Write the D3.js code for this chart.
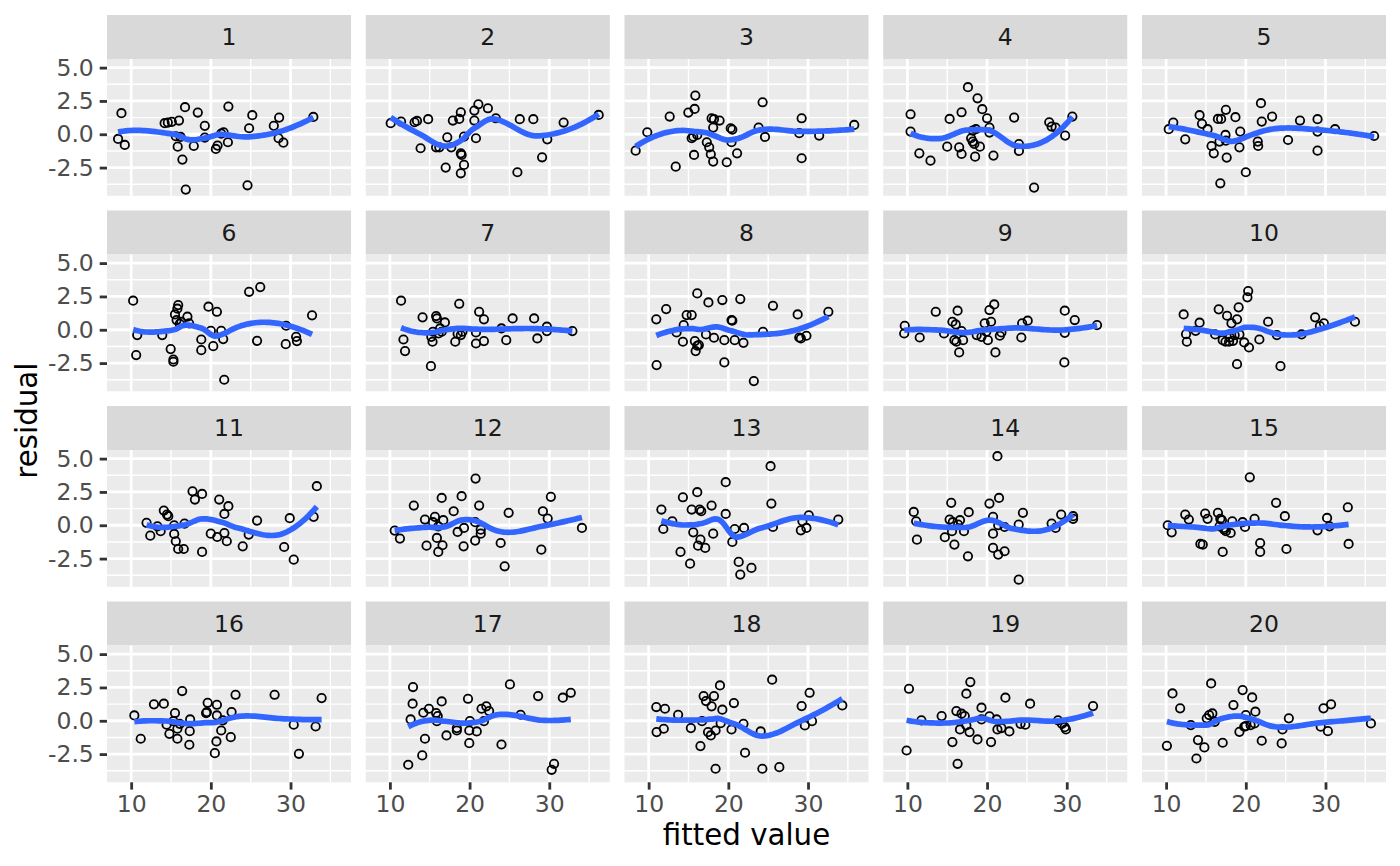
<!DOCTYPE html>
<html>
<head>
<meta charset="utf-8">
<script src="https://cdn.jsdelivr.net/npm/d3@7"></script>
<style>
  html, body { margin: 0; padding: 0; background: #fff; }
  svg { display: block; font-family: "DejaVu Sans", sans-serif; }
</style>
</head>
<body>
<div id="chart"></div>
<script>
// Residuals vs fitted values, one array of [fitted, residual] pairs per panel.
var p1 = [[8.78,1.58],[8.36,-0.35],[9.2,-0.8],[14.2,0.83],[14.6,0.88],[15.1,0.93],[16.0,1.03],[15.6,-0.15],[16.2,-0.2],[15.84,-0.93],[16.43,-1.9],[16.76,2.03],[16.85,-4.15],[17.86,-0.88],[18.36,1.63],[19.24,0.63],[19.24,-0.25],[20.63,-1.1],[20.84,-0.85],[21.3,0.05],[21.6,0.15],[22.14,-0.6],[22.2,2.08],[24.8,0.45],[25.2,1.43],[24.6,-3.83],[27.9,0.63],[28.57,1.25],[28.5,-0.3],[29.1,-0.63],[32.86,1.3]];
var p2 = [[10.1,0.83],[11.4,0.95],[13.1,0.9],[13.4,1.0],[14.8,1.13],[13.85,-1.05],[15.8,-0.98],[16.2,-0.98],[17.2,-0.23],[17.7,-0.98],[17.0,-2.5],[17.9,1.03],[18.7,1.15],[18.9,1.65],[18.9,-1.43],[19.0,-1.55],[19.3,-2.3],[18.9,-2.93],[19.3,-0.18],[20.6,1.78],[21.1,2.25],[20.6,1.03],[20.8,-0.3],[22.3,1.95],[23.3,1.2],[26.3,1.13],[26.0,-2.85],[28.0,1.13],[29.75,-0.38],[29.1,-1.73],[31.8,0.88],[36.2,1.45]];
var p3 = [[8.37,-1.23],[9.83,0.15],[12.64,1.33],[13.4,-2.43],[14.98,1.63],[15.77,1.9],[15.86,2.9],[15.6,-0.18],[15.4,-0.3],[16.1,-0.05],[15.7,-1.55],[17.9,1.2],[18.9,1.03],[18.1,0.5],[17.3,-0.6],[17.6,-0.98],[17.8,-1.5],[18.1,-2.05],[19.8,-2.1],[20.3,0.45],[20.5,0.35],[20.4,-0.6],[21.1,-1.43],[23.8,0.5],[24.3,2.4],[24.6,-0.2],[28.9,0.08],[29.2,1.2],[29.2,-1.8],[31.4,-0.1],[35.8,0.7],[18.2,1.13]];
var p4 = [[10.4,1.5],[10.4,0.2],[11.5,-1.43],[12.9,-1.98],[15.3,1.15],[15.0,-0.93],[16.8,1.65],[16.5,-0.98],[16.8,-1.48],[17.6,3.53],[18.8,2.7],[19.4,1.88],[20.0,1.2],[18.2,0.28],[18.6,0.38],[18.2,-0.55],[18.4,-0.73],[19.1,-0.93],[18.5,-1.68],[20.3,0.5],[20.3,0.13],[20.8,-1.6],[23.4,1.25],[24.0,-0.73],[24.0,-1.25],[25.9,-4.0],[27.8,0.9],[28.1,0.58],[28.6,0.5],[29.8,-0.1],[30.7,1.33],[18.0,-0.3]];
var p5 = [[10.33,0.38],[10.9,0.88],[12.4,-0.38],[14.2,1.43],[14.5,0.78],[15.2,0.38],[15.7,-0.88],[15.98,-1.43],[16.5,1.15],[16.9,1.15],[17.5,1.83],[17.45,-0.05],[17.5,-0.48],[17.6,-1.75],[16.8,-3.68],[18.7,1.28],[19.3,0.2],[19.2,-0.98],[20.0,-2.85],[21.5,-0.55],[21.55,-0.88],[21.9,2.33],[22.0,0.95],[23.3,1.33],[25.3,-0.43],[26.8,1.03],[29.0,1.13],[29.0,0.2],[29.0,-1.23],[31.2,0.38],[36.1,-0.13],[16.7,-0.55]];
var p6 = [[10.25,2.18],[10.76,-0.4],[10.63,-1.9],[13.9,-0.4],[14.96,-1.45],[15.3,-2.23],[15.3,-2.4],[15.9,1.85],[15.8,1.58],[15.5,1.15],[15.7,0.73],[16.1,0.45],[17.06,0.98],[17.27,0.48],[19.7,1.73],[20.76,1.35],[20.0,-0.08],[18.8,-0.73],[18.8,-1.53],[20.3,-1.23],[21.3,-0.08],[21.55,-0.7],[21.68,-3.75],[24.8,2.85],[26.2,3.2],[25.8,-0.83],[29.45,0.3],[29.4,-1.08],[30.7,-0.53],[30.8,-0.85],[32.7,1.08],[16.3,0.6]];
var p7 = [[11.4,2.18],[11.7,-0.73],[11.9,-1.6],[14.1,0.93],[15.15,-2.73],[15.8,1.03],[15.9,0.85],[16.9,0.55],[15.2,-0.53],[15.35,-0.9],[16.1,-0.28],[16.5,-0.15],[18.7,1.95],[18.2,-0.9],[18.9,-0.4],[19.1,-0.15],[21.2,1.35],[21.8,0.78],[20.8,-0.2],[20.8,-1.03],[21.8,-0.85],[24.0,0.1],[25.4,0.85],[24.6,-0.78],[28.1,0.85],[28.5,-0.65],[29.7,0.23],[29.7,-0.1],[32.9,-0.1],[15.4,-0.15],[16.3,0.1],[18.5,-0.3]];
var p8 = [[10.96,0.78],[12.2,1.55],[11.0,-2.65],[13.5,-0.2],[14.3,-0.9],[14.4,0.35],[14.77,1.1],[15.4,1.1],[16.1,2.73],[15.8,-0.85],[16.1,-1.2],[16.3,-1.15],[15.9,-1.6],[17.2,-0.35],[17.5,2.05],[18.2,-0.6],[19.25,2.23],[19.5,-0.78],[19.5,-2.45],[20.4,0.73],[20.5,0.68],[20.8,-0.78],[21.5,2.3],[21.9,-0.98],[23.2,-3.85],[24.35,-0.15],[25.6,1.8],[28.7,1.15],[28.9,-0.58],[29.1,-0.65],[29.8,-0.45],[32.55,1.35]];
var p9 = [[9.67,0.3],[9.6,-0.28],[11.55,-0.58],[13.56,1.35],[14.6,-0.28],[16.3,1.43],[15.65,0.6],[16.07,0.4],[16.8,-0.1],[15.9,-0.78],[16.15,-0.9],[16.99,-0.78],[16.5,-1.7],[19.7,0.48],[20.5,0.6],[20.3,1.48],[20.9,1.9],[19.3,-0.53],[20.1,-0.78],[21.05,-1.7],[21.6,-0.45],[21.8,-0.2],[18.7,-0.4],[24.4,0.48],[25.1,0.68],[24.3,-0.58],[29.75,1.43],[31.0,0.73],[29.75,-0.23],[29.7,-2.45],[33.8,0.35],[19.9,-0.15]];
var p10 = [[12.2,1.15],[12.5,-0.33],[12.6,-0.9],[13.7,-0.08],[14.2,0.53],[16.15,-0.35],[16.6,1.53],[17.65,1.05],[18.2,0.48],[18.9,0.78],[19.1,1.68],[20.2,2.43],[20.3,2.9],[17.45,-0.9],[17.9,-0.9],[18.4,-0.83],[18.6,-0.4],[19.2,-0.35],[19.8,-0.95],[20.4,-1.33],[18.9,-2.58],[21.7,-0.73],[22.8,0.6],[23.9,-0.4],[24.35,-2.73],[27.0,-0.35],[28.7,0.93],[29.3,0.28],[29.8,0.48],[33.7,0.6],[17.1,-0.78],[18.0,-0.58]];
var p11 = [[11.93,0.18],[12.4,-0.78],[13.3,-0.08],[13.7,-0.45],[14.1,1.1],[14.5,0.8],[14.66,0.68],[15.4,0.0],[15.4,-0.65],[15.6,-1.2],[15.9,-1.78],[16.6,-1.78],[16.7,0.13],[17.7,2.55],[18.0,1.93],[18.9,2.35],[18.9,-2.0],[19.99,-0.63],[20.8,-0.88],[21.05,1.93],[21.7,-0.58],[22.0,-1.2],[22.2,1.43],[21.7,0.85],[24.0,-1.58],[24.75,-0.7],[25.8,0.35],[29.2,-1.63],[29.9,0.53],[30.4,-2.58],[32.9,0.63],[33.3,2.93]];
var p12 = [[10.6,-0.4],[11.26,-1.0],[13.0,1.48],[14.4,0.43],[14.6,-1.53],[15.65,0.63],[15.4,0.23],[16.07,-0.08],[16.7,0.38],[15.9,-0.95],[16.6,-1.5],[16.07,-2.0],[16.5,2.05],[18.0,1.05],[19.0,2.18],[19.3,-0.2],[18.5,-0.5],[19.25,-1.58],[20.75,3.5],[21.2,1.48],[20.7,0.23],[21.4,-0.33],[21.4,-0.63],[20.7,-1.15],[24.4,-3.08],[23.9,-1.33],[24.9,0.93],[29.2,1.05],[29.8,0.5],[30.2,2.13],[29.0,-1.83],[34.1,-0.2]];
var p13 = [[11.6,1.18],[11.84,-0.28],[12.97,0.3],[14.0,-2.0],[14.3,2.1],[15.2,-2.88],[15.4,1.18],[16.1,2.48],[16.4,1.18],[16.6,1.05],[15.6,-0.53],[16.5,-1.08],[16.2,-1.53],[17.1,-1.7],[17.9,1.48],[18.1,-0.63],[19.67,3.23],[19.67,0.85],[20.8,-0.28],[20.5,-1.25],[21.97,-0.2],[21.3,-2.75],[21.5,-3.7],[22.9,-3.2],[25.3,4.43],[25.4,1.63],[25.6,-0.13],[30.1,0.75],[29.3,0.3],[29.1,-0.38],[29.8,-0.2],[33.8,0.43]];
var p14 = [[10.8,1.0],[11.1,0.3],[11.2,-1.08],[14.7,-0.9],[15.5,1.68],[15.3,0.43],[15.7,0.23],[16.6,0.38],[17.7,0.98],[15.9,-1.45],[17.6,-2.33],[17.1,-0.45],[15.6,-0.45],[20.3,1.63],[21.5,2.05],[21.3,5.18],[20.75,0.63],[21.4,0.0],[22.2,-0.13],[20.75,-0.63],[20.75,-1.7],[21.4,-2.2],[22.2,-1.95],[23.97,0.05],[24.5,0.93],[23.97,-4.08],[28.1,0.13],[28.6,-0.2],[29.3,0.8],[30.8,0.68],[30.8,0.48],[16.36,0.05]];
var p15 = [[10.2,0.0],[10.7,-0.53],[12.4,0.8],[12.85,0.43],[14.3,-1.4],[14.6,-1.45],[14.9,0.88],[15.2,0.48],[16.5,0.93],[16.8,0.48],[17.0,0.38],[17.2,-0.2],[17.5,-0.45],[18.1,-0.58],[18.3,0.3],[17.1,-2.0],[19.6,0.23],[19.9,-0.13],[20.5,3.6],[21.1,0.48],[21.8,-1.33],[21.8,-2.0],[23.8,1.68],[24.9,0.68],[25.1,-1.78],[29.0,-0.38],[30.2,0.55],[30.5,-0.08],[32.8,1.35],[32.9,-1.4],[17.3,-0.33],[16.7,-0.08]];
var p16 = [[10.4,0.4],[11.2,-1.35],[12.86,1.23],[14.1,1.28],[14.45,-0.3],[14.8,-0.98],[15.5,0.58],[15.3,-0.03],[15.8,-0.6],[15.8,-1.35],[16.1,-0.23],[16.4,2.23],[17.4,0.1],[17.35,-0.78],[17.3,-1.8],[19.6,1.35],[19.5,0.65],[19.4,0.58],[20.76,1.2],[20.76,0.4],[21.5,0.03],[21.3,-0.73],[20.7,-1.55],[20.5,-2.43],[22.6,0.65],[23.1,1.95],[22.5,-1.23],[28.0,1.95],[30.4,-0.3],[31.05,-2.48],[33.15,-0.43],[33.9,1.7]];
var p17 = [[12.6,0.1],[12.9,2.53],[12.85,1.28],[12.3,-3.3],[14.06,-2.6],[14.4,-1.35],[14.2,0.6],[14.9,0.9],[15.8,0.58],[16.0,0.35],[15.9,-0.03],[16.5,1.45],[17.1,-1.1],[18.4,-0.55],[18.4,-0.73],[19.8,1.65],[20.04,-0.03],[19.96,-0.73],[19.96,-1.68],[20.9,-0.8],[21.5,0.9],[22.1,1.08],[22.45,0.73],[21.8,-0.03],[24.0,-1.78],[25.06,2.73],[26.4,0.45],[28.6,1.85],[30.6,-3.23],[30.3,-3.68],[31.7,1.73],[32.7,2.1]];
var p18 = [[10.96,1.03],[11.0,-0.85],[12.05,0.9],[11.9,-0.6],[13.7,0.45],[15.3,-0.55],[16.5,-1.9],[16.7,-0.03],[16.9,1.85],[17.2,1.48],[18.2,1.85],[17.9,1.08],[18.95,2.65],[19.25,0.83],[18.4,-0.73],[17.8,-1.1],[19.04,-0.18],[18.4,-3.6],[20.7,1.33],[20.4,-0.65],[21.9,-0.23],[22.1,-2.4],[24.06,-0.8],[24.27,-3.6],[25.5,3.08],[26.4,-3.48],[29.2,1.1],[30.2,2.1],[30.5,-0.03],[29.6,-0.35],[34.3,1.15],[17.45,-0.85]];
var p19 = [[10.2,2.4],[9.9,-2.23],[11.76,0.03],[14.3,0.35],[15.65,-1.6],[16.3,-3.23],[16.15,0.73],[16.8,0.53],[17.2,0.35],[17.4,-0.35],[16.6,-0.65],[17.8,-0.85],[18.8,-1.4],[17.4,2.03],[17.9,2.9],[19.3,0.98],[19.3,0.1],[20.3,0.33],[20.5,-1.6],[21.2,0.1],[21.3,-0.65],[21.8,-0.55],[22.8,-0.8],[22.3,1.73],[24.2,-0.23],[24.8,-0.3],[25.4,1.28],[28.9,0.03],[29.4,-0.23],[29.75,-0.48],[29.9,-0.65],[33.3,1.1]];
var p20 = [[10.1,-1.88],[10.8,2.05],[11.76,0.93],[13.1,-0.33],[14.0,-1.45],[13.8,-2.83],[14.8,-2.0],[15.65,2.8],[15.1,0.18],[15.4,0.43],[15.8,0.55],[16.1,-0.08],[17.1,-1.65],[18.45,1.18],[19.6,2.3],[20.8,1.75],[21.2,0.68],[20.0,0.43],[19.8,-0.45],[19.2,-0.83],[20.6,-0.33],[21.1,-0.2],[22.0,-1.5],[24.6,-0.65],[25.4,0.18],[24.5,-1.7],[29.75,0.93],[30.7,1.23],[29.4,-0.45],[30.3,-0.78],[35.7,-0.2],[20.0,-0.4]];

var panelData = [p1, p2, p3, p4, p5, p6, p7, p8, p9, p10,
                 p11, p12, p13, p14, p15, p16, p17, p18, p19, p20];
var panelLabels = ['1','2','3','4','5','6','7','8','9','10',
                   '11','12','13','14','15','16','17','18','19','20'];

var xTicks = [10, 20, 30];
var xMinor = [5, 15, 25, 35];
var yTicks = [-2.5, 0, 2.5, 5];
var yMinor = [-3.75, -1.25, 1.25, 3.75];

var WIDTH = 1400, HEIGHT = 866;
var LEFT = 107, RIGHT = 1386, TOP = 15;
var NCOL = 5, NROW = 4;
var GAP = 14.7, STRIP_H = 44, PANEL_H = 136.8;
var PANEL_W = (RIGHT - LEFT - GAP * (NCOL - 1)) / NCOL;

/**
 * Local quadratic fit at x0 with tricube weights.
 * @return {number[]} [value, slope]
 */
var localFit = function localFit(pts, span, x0) {
    var n = pts.length;
    var q = Math.floor(n * span);
    var d = pts.map(function(p) { return Math.abs(p[0] - x0); });
    var h = d.slice().sort(function(a, b) { return a - b; })[q - 1] * 1.0000001;
    var A = [[0,0,0],[0,0,0],[0,0,0]], b = [0,0,0];
    for (var i = 0; i < n; i++) {
        var u = d[i] / h;
        if (u >= 1) continue;
        var w = Math.pow(1 - u * u * u, 3);
        var dx = pts[i][0] - x0;
        var basis = [1, dx, dx * dx];
        for (var r = 0; r < 3; r++) {
            b[r] += w * basis[r] * pts[i][1];
            for (var c = 0; c < 3; c++) A[r][c] += w * basis[r] * basis[c];
        }
    }
    // gaussian elimination with pivoting
    for (var k = 0; k < 3; k++) {
        var piv = k;
        for (var r2 = k + 1; r2 < 3; r2++) if (Math.abs(A[r2][k]) > Math.abs(A[piv][k])) piv = r2;
        var tmp = A[k]; A[k] = A[piv]; A[piv] = tmp;
        var tb = b[k]; b[k] = b[piv]; b[piv] = tb;
        for (var r3 = k + 1; r3 < 3; r3++) {
            var f = A[r3][k] / A[k][k];
            for (var c2 = k; c2 < 3; c2++) A[r3][c2] -= f * A[k][c2];
            b[r3] -= f * b[k];
        }
    }
    var beta = [0,0,0];
    for (var k2 = 2; k2 >= 0; k2--) {
        var s = b[k2];
        for (var c3 = k2 + 1; c3 < 3; c3++) s -= A[k2][c3] * beta[c3];
        beta[k2] = s / A[k2][k2];
    }
    return [beta[0], beta[1]];
};

/**
 * loess as R does it by default: fits at kd-tree vertices,
 * cubic Hermite interpolation in between.
 */
var loess = function loess(pts, span, evalX) {
    var xs = pts.map(function(p) { return p[0]; }).sort(function(a, b) { return a - b; });
    var n = xs.length;
    var fc = Math.floor(n * span * 0.2);
    var mu = 0.005 * (xs[n - 1] - xs[0]);
    var verts = [xs[0] - mu, xs[n - 1] + mu];

    var split = function split(l, u) {
        if (u - l + 1 <= fc) return;
        var m = Math.floor((l + u + 2) / 2) - 1;
        var v = (xs[m] + xs[m + 1]) / 2;
        if (v <= verts[0] || v >= verts[1]) return;
        verts.push(v);
        split(l, m);
        split(m + 1, u);
    };
    split(0, n - 1);
    verts = Array.from(new Set(verts)).sort(function(a, b) { return a - b; });

    var fits = verts.map(function(v) { return localFit(pts, span, v); });

    return evalX.map(function(x0) {
        var j = 0;
        while (j < verts.length - 2 && x0 > verts[j + 1]) j++;
        var v0 = verts[j], v1 = verts[j + 1], h = v1 - v0;
        var t = (x0 - v0) / h;
        var h00 = 2*t*t*t - 3*t*t + 1, h10 = t*t*t - 2*t*t + t;
        var h01 = -2*t*t*t + 3*t*t, h11 = t*t*t - t*t;
        var val = h00 * fits[j][0] + h10 * h * fits[j][1] +
                  h01 * fits[j + 1][0] + h11 * h * fits[j + 1][1];
        return [x0, val];
    });
};

// Smoothed curves per panel, 80 points over each panel's own x range
var smooths = panelData.map(function(pts) {
    var ext = d3.extent(pts, function(p) { return p[0]; });
    var xs = d3.range(80).map(function(i) { return ext[0] + (ext[1] - ext[0]) * i / 79; });
    return loess(pts, 0.75, xs);
});

// Shared scales over all panels, 5% expansion as ggplot does
var allX = [], allY = [];
panelData.forEach(function(pts) { pts.forEach(function(p) { allX.push(p[0]); allY.push(p[1]); }); });
smooths.forEach(function(line) { line.forEach(function(p) { allY.push(p[1]); }); });
var xExt = d3.extent(allX), yExt = d3.extent(allY);
var xPad = (xExt[1] - xExt[0]) * 0.05, yPad = (yExt[1] - yExt[0]) * 0.05;

var x = d3.scaleLinear().domain([xExt[0] - xPad, xExt[1] + xPad]).range([0, PANEL_W]);
var y = d3.scaleLinear().domain([yExt[0] - yPad, yExt[1] + yPad]).range([PANEL_H, 0]);

var svg = d3.select('#chart').append('svg')
    .attr('width', WIDTH).attr('height', HEIGHT);
svg.append('rect').attr('width', WIDTH).attr('height', HEIGHT).attr('fill', '#ffffff');

var line = d3.line()
    .x(function(d) { return x(d[0]); })
    .y(function(d) { return y(d[1]); });

panelData.forEach(function(pts, i) {
    var col = i % NCOL, row = Math.floor(i / NCOL);
    var px = LEFT + col * (PANEL_W + GAP);
    var py = TOP + row * (STRIP_H + PANEL_H + GAP);

    var g = svg.append('g').attr('transform', 'translate(' + px + ',' + py + ')');

    // strip
    g.append('rect').attr('width', PANEL_W).attr('height', STRIP_H).attr('fill', '#d9d9d9');
    g.append('text')
        .attr('x', PANEL_W / 2).attr('y', STRIP_H / 2)
        .attr('dy', '0.36em')
        .attr('text-anchor', 'middle')
        .attr('fill', '#1a1a1a')
        .style('font-size', '23.5px')
        .text(panelLabels[i]);

    var pg = g.append('g').attr('transform', 'translate(0,' + STRIP_H + ')');
    pg.append('rect').attr('width', PANEL_W).attr('height', PANEL_H).attr('fill', '#ebebeb');

    // grid: minor, then major
    pg.selectAll('line.xminor').data(xMinor.filter(function(v) { return v > x.domain()[0] && v < x.domain()[1]; }))
        .enter().append('line').attr('class', 'xminor')
        .attr('x1', x).attr('x2', x).attr('y1', 0).attr('y2', PANEL_H)
        .attr('stroke', '#fff').attr('stroke-width', 1.4);
    pg.selectAll('line.yminor').data(yMinor.filter(function(v) { return v > y.domain()[0] && v < y.domain()[1]; }))
        .enter().append('line').attr('class', 'yminor')
        .attr('y1', y).attr('y2', y).attr('x1', 0).attr('x2', PANEL_W)
        .attr('stroke', '#fff').attr('stroke-width', 1.4);
    pg.selectAll('line.xmajor').data(xTicks)
        .enter().append('line').attr('class', 'xmajor')
        .attr('x1', x).attr('x2', x).attr('y1', 0).attr('y2', PANEL_H)
        .attr('stroke', '#fff').attr('stroke-width', 2.8);
    pg.selectAll('line.ymajor').data(yTicks)
        .enter().append('line').attr('class', 'ymajor')
        .attr('y1', y).attr('y2', y).attr('x1', 0).attr('x2', PANEL_W)
        .attr('stroke', '#fff').attr('stroke-width', 2.8);

    // points
    pg.selectAll('circle').data(pts).enter().append('circle')
        .attr('cx', function(d) { return x(d[0]); })
        .attr('cy', function(d) { return y(d[1]); })
        .attr('r', 4.2)
        .attr('fill', 'none')
        .attr('stroke', '#000')
        .attr('stroke-width', 1.8);

    // smooth
    pg.append('path').datum(smooths[i])
        .attr('d', line)
        .attr('fill', 'none')
        .attr('stroke', '#3366ff')
        .attr('stroke-width', 5.7);

    // axes
    if (col === 0) {
        var ay = pg.append('g').call(d3.axisLeft(y).tickValues(yTicks)
            .tickFormat(function(d) { return d.toFixed(1); })
            .tickSize(7.3).tickPadding(5.9));
        ay.select('.domain').remove();
        ay.selectAll('.tick line').attr('stroke', '#333333').attr('stroke-width', 2.8);
        ay.selectAll('.tick text').attr('fill', '#4d4d4d')
            .style('font-size', '23.5px').style('font-family', '"DejaVu Sans", sans-serif');
    }
    if (row === NROW - 1) {
        var ax = pg.append('g').attr('transform', 'translate(0,' + PANEL_H + ')')
            .call(d3.axisBottom(x).tickValues(xTicks).tickSize(7.3).tickPadding(5.9));
        ax.select('.domain').remove();
        ax.selectAll('.tick line').attr('stroke', '#333333').attr('stroke-width', 2.8);
        ax.selectAll('.tick text').attr('fill', '#4d4d4d')
            .style('font-size', '23.5px').style('font-family', '"DejaVu Sans", sans-serif');
    }
});

var bottom = TOP + NROW * (STRIP_H + PANEL_H) + (NROW - 1) * GAP;

// axis titles
svg.append('text')
    .attr('x', (LEFT + RIGHT) / 2).attr('y', 845)
    .attr('text-anchor', 'middle')
    .attr('fill', '#000')
    .style('font-size', '29.3px')
    .text('fitted value');

svg.append('text')
    .attr('transform', 'translate(37,' + ((TOP + STRIP_H + bottom) / 2) + ') rotate(-90)')
    .attr('text-anchor', 'middle')
    .attr('fill', '#000')
    .style('font-size', '29.3px')
    .text('residual');
</script>
</body>
</html>
